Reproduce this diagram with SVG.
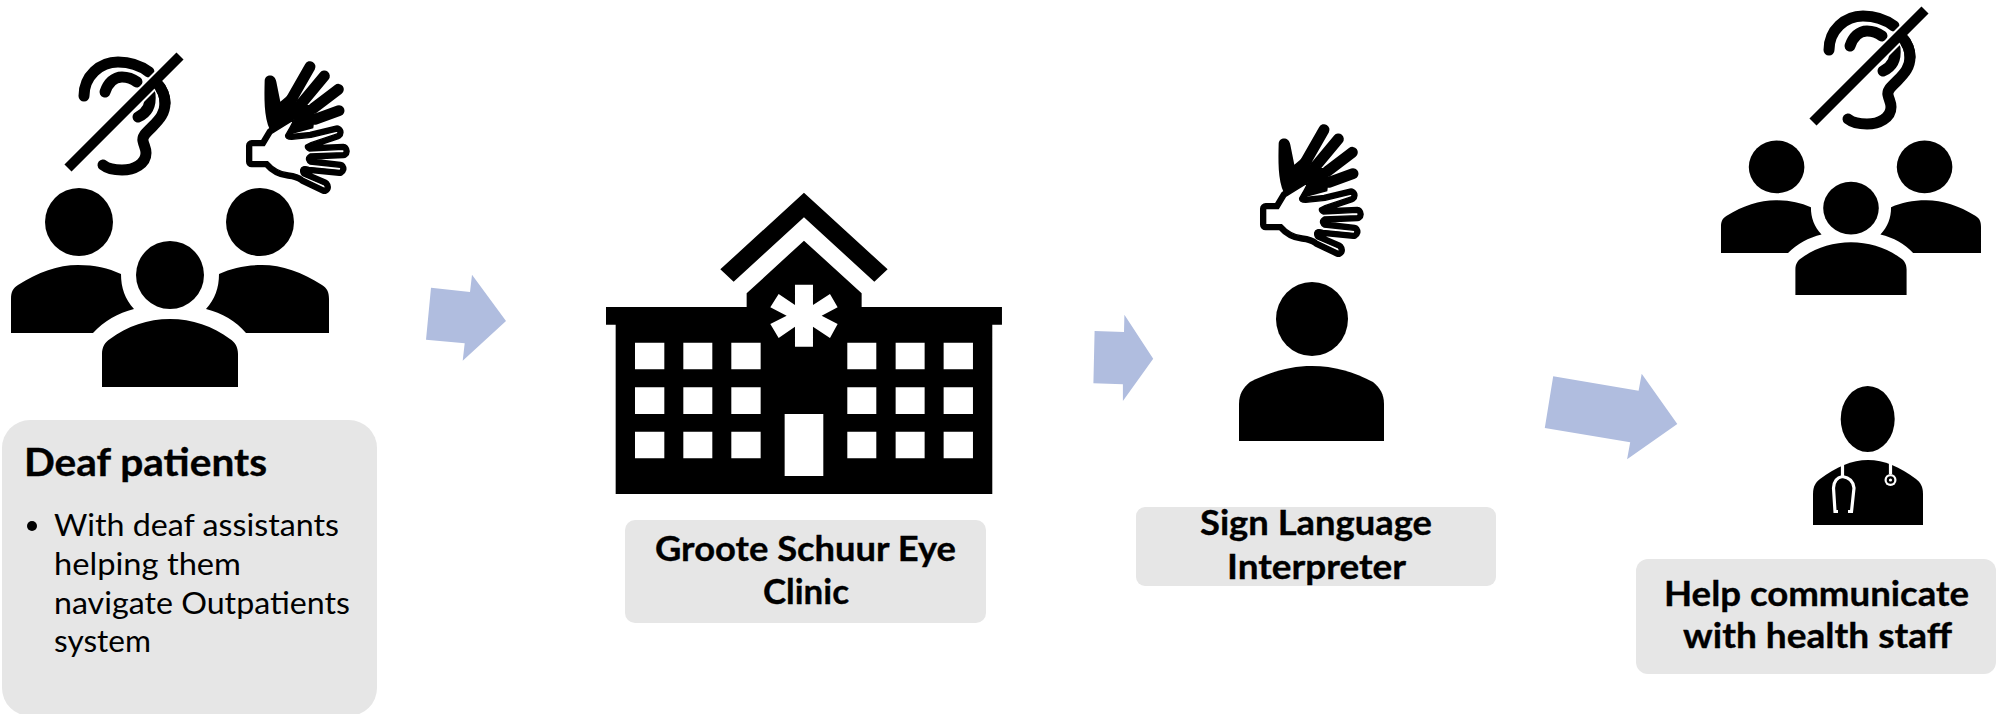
<svg xmlns="http://www.w3.org/2000/svg" xmlns:xlink="http://www.w3.org/1999/xlink" width="1999" height="714" viewBox="0 0 1999 714">
<style>
.box{fill:#e6e6e6}
.t{font-family:Lato,"Open Sans",sans-serif;fill:#000}
.b{font-weight:700;font-size:34.5px;text-anchor:middle;stroke:#000;stroke-width:.35px}
.h{font-weight:700;font-size:37.5px;stroke:#000;stroke-width:.35px}
.p{font-size:30.5px}
.arrow{fill:#b0bddf}
.ear{fill:none;stroke:#000;stroke-width:11;stroke-linecap:round;stroke-linejoin:round}
.fb{stroke:#000;stroke-width:33;stroke-linecap:round;fill:none}
</style>
<defs>
<g id="people">
<path d="M11,333V299C11,292 13,288 18,285C38,272 58,265 78,265C95,265 108,268 121,274C121,288 125,299 134,309C118,313 104,321 93,333Z"/>
<path d="M329,333V299C329,292 327,288 322,285C302,272 282,265 262,265C245,265 232,268 219,274C219,288 215,299 206,309C222,313 236,321 246,333Z"/>
<path d="M102,387V354C102,347 105,342 110,339C127,326 148,319 170,319C192,319 213,326 230,339C235,342 238,347 238,354V387Z"/>
<circle cx="79" cy="222" r="34"/>
<circle cx="260" cy="222" r="34"/>
<circle cx="170" cy="275" r="34"/>
</g>
<g id="ear">
<path class="ear" d="M84,96C84,76 100,62 118,62C130,62 141,66 149,72"/>
<path class="ear" d="M105,92C108,83 114,77 122,77C128,77 133,79 137,82"/>
<path class="ear" d="M157,83C163,90 165,96 165,103C165,113 160,119 152,127C146,133 142,136 143,141C144,146 146,148 146,153C146,164 134,170 122,170C114,170 108,169 103,165"/>
<path class="ear" d="M150,94C151,103 149,112 138,117"/>
<path d="M180,56L68,168" fill="none" stroke="#fff" stroke-width="14"/>
<path d="M180,56L68,168" fill="none" stroke="#000" stroke-width="10"/>
<path class="ear" stroke-linecap="butt" d="M157,83C163,90 165,96 165,103"/>
</g>
<path id="palm" d="M50,287H88L110,250Q150,225 178,208Q165,235 152,255Q150,268 170,268L228,262L306,243Q312,247 306,252L228,278L212,286Q208,296 222,303L325,298Q330,304 325,308L225,312Q212,320 215,330Q218,340 225,342L316,352Q320,358 314,361L222,352Q200,345 197,360Q196,372 205,378L268,405Q274,412 268,415L205,385Q190,372 160,369Q125,366 98,335H50Z"/>
<g id="hand" transform="translate(235,50) scale(.3333)">
<path d="M89,92C90,72 120,70 124,95L136,155L160,135L198,165L228,165L240,195L235,235L160,255L105,240C86,200 88,140 89,92Z"/>
<path class="fb" d="M225,50L168,150M268,78L200,160M310,118L235,175M312,182L240,208"/>
<use xlink:href="#palm" href="#palm" fill="#000" stroke="#000" stroke-width="34" stroke-linejoin="round"/>
<use xlink:href="#palm" href="#palm" fill="#fff" stroke="#000" stroke-width="4" stroke-linejoin="round"/>
</g>
</defs>

<g id="connectors" class="arrow">
<path d="M431,287.7L470,292L472,274.7L506,321L462.7,360.7L464.7,343.3L426,339.7Z"/>
<path d="M1094.6,331L1124,332L1124.4,314.7L1153.2,358.7L1122.9,401L1122.9,384.3L1093.4,383.3Z"/>
<path d="M1553.2,376.3L1638.6,390.7L1641.7,373.7L1677.3,424L1627.1,459.3L1630.2,442.3L1544.8,428Z"/>
</g>

<g id="deaf-patients">
<use xlink:href="#people" href="#people"/>
<use xlink:href="#ear" href="#ear"/>
<use xlink:href="#hand" href="#hand"/>
<rect class="box" x="2" y="420" width="375" height="296" rx="28"/>
<text class="t h" x="24" y="476" textLength="243" lengthAdjust="spacingAndGlyphs">Deaf patients</text>
<circle cx="32" cy="526" r="5"/>
<text class="t p" x="54" y="536" textLength="285" lengthAdjust="spacingAndGlyphs">With deaf assistants</text>
<text class="t p" x="54" y="575" textLength="187" lengthAdjust="spacingAndGlyphs">helping them</text>
<text class="t p" x="54" y="614" textLength="296" lengthAdjust="spacingAndGlyphs">navigate Outpatients</text>
<text class="t p" x="54" y="652" textLength="97" lengthAdjust="spacingAndGlyphs">system</text>
</g>

<g id="clinic">
<g transform="translate(590,180) scale(.3333)">
<path d="M642,38L893,268L853,305L642,112L431,305L391,268Z"/>
<path fill-rule="evenodd" d="M470,340L642,182L815,340V381H1236V434H1207V942H77V434H48V381H470Z
M135,488H223V568H135ZM280,488H367V568H280ZM424,488H512V568H424ZM772,488H859V568H772ZM917,488H1004V568H917ZM1061,488H1149V568H1061Z
M135,622H223V702H135ZM280,622H367V702H280ZM424,622H512V702H424ZM772,622H859V702H772ZM917,622H1004V702H917ZM1061,622H1149V702H1061Z
M135,755H223V835H135ZM280,755H367V835H280ZM424,755H512V835H424ZM772,755H859V835H772ZM917,755H1004V835H917ZM1061,755H1149V835H1061Z
M584,702H700V888H584Z
M615,314H669V375L720,342L743,382L695,407L743,432L720,474L669,440V500H615V440L566,474L541,432L590,407L541,382L566,342L615,375Z"/>
</g>
<rect class="box" x="625" y="520" width="361" height="103" rx="10"/>
<text class="t b" x="805.5" y="561" textLength="301" lengthAdjust="spacingAndGlyphs">Groote Schuur Eye</text>
<text class="t b" x="806" y="604" textLength="86" lengthAdjust="spacingAndGlyphs">Clinic</text>
</g>

<g id="interpreter">
<use xlink:href="#hand" href="#hand" transform="translate(1014,63)"/>
<ellipse cx="1312" cy="319" rx="36" ry="37"/>
<path d="M1239,441V404C1239,394 1243,388 1250,382C1270,372 1290,366 1312,366C1334,366 1354,372 1373,382C1380,388 1384,394 1384,404V441Z"/>
<rect class="box" x="1136" y="507" width="360" height="79" rx="9"/>
<text class="t b" x="1316" y="535" textLength="232" lengthAdjust="spacingAndGlyphs">Sign Language</text>
<text class="t b" x="1316.5" y="579" textLength="179" lengthAdjust="spacingAndGlyphs">Interpreter</text>
</g>

<g id="help">
<use xlink:href="#ear" href="#ear" transform="translate(1745,-46)"/>
<use xlink:href="#people" href="#people" transform="matrix(.8176 0 0 .776 1712 -5.3)"/>
<ellipse cx="1867.7" cy="419" rx="27" ry="33"/>
<path d="M1813,525V494C1813,486 1816,482 1820,479C1836,467 1852,460 1868,460C1884,460 1900,467 1916,479C1920,482 1923,486 1923,494V525Z"/>
<g fill="none" stroke="#fff" stroke-width="3.2">
<path d="M1842.5,463V476.5M1838,511.5H1835L1833.5,488Q1834,478 1842.5,476.5Q1853,478 1854,488L1851.5,511.5H1848"/>
<path d="M1890.5,463V474"/>
</g>
<circle cx="1890.5" cy="480" r="6" fill="#fff"/>
<circle cx="1890.5" cy="480" r="3.8"/>
<circle cx="1890.5" cy="480" r="1.6" fill="#fff"/>
<rect class="box" x="1636" y="559" width="360" height="115" rx="12"/>
<text class="t b" x="1816.5" y="606" textLength="305" lengthAdjust="spacingAndGlyphs">Help communicate</text>
<text class="t b" x="1817.5" y="648" textLength="269" lengthAdjust="spacingAndGlyphs">with health staff</text>
</g>
</svg>
